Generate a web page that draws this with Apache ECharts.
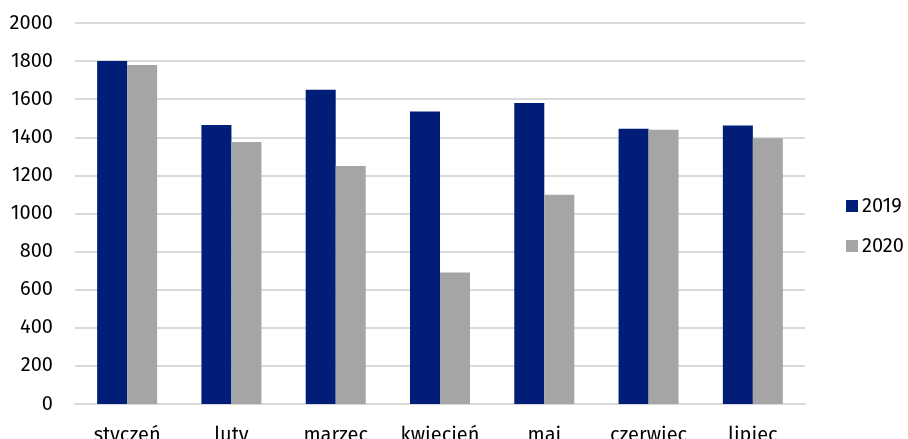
<!DOCTYPE html>
<html>
<head>
<meta charset="utf-8">
<script src="https://cdn.jsdelivr.net/npm/echarts@6/dist/echarts.min.js"></script>
<style>
  html, body { margin: 0; padding: 0; background: #fff; }
  #chart { width: 908px; height: 439px; }
</style>
</head>
<body>
<div id="chart"></div>
<script>
// dane
const months = ['styczeń', 'luty', 'marzec', 'kwiecień', 'maj', 'czerwiec', 'lipiec'];
const values2019 = [1800, 1465, 1650, 1535, 1580, 1445, 1462];
const values2020 = [1780, 1375, 1250, 690, 1098, 1440, 1395];

const font = '"Fira Sans", "Open Sans", "Noto Sans", sans-serif';

const myChart = echarts.init(document.getElementById('chart'));
myChart.setOption({
  animation: false,
  textStyle: { fontFamily: font },
  grid: { left: 75, right: 103, top: 23, bottom: 35, containLabel: false, outerBoundsMode: 'none' },
  legend: {
    orient: 'vertical',
    left: 846,
    top: 196,
    padding: 0,
    itemWidth: 12,
    itemHeight: 12,
    itemGap: 20,
    icon: 'rect',
    textStyle: { fontSize: 20, color: '#000', fontFamily: font, padding: [0, 0, 0, -1] },
    data: ['2019', '2020']
  },
  xAxis: {
    type: 'category',
    data: months,
    axisLine: { lineStyle: { color: '#d9d9d9', width: 2 } },
    axisTick: { show: false },
    axisLabel: { color: '#000', fontSize: 20, margin: 21 }
  },
  yAxis: {
    type: 'value',
    min: 0,
    max: 2000,
    interval: 200,
    axisLine: { show: false },
    axisTick: { show: false },
    splitLine: { lineStyle: { color: '#d9d9d9', width: 2 } },
    axisLabel: { color: '#000', fontSize: 20, margin: 22, formatter: v => String(v) }
  },
  series: [
    {
      name: '2019',
      type: 'bar',
      data: values2019,
      barWidth: 30,
      barGap: '0%',
      itemStyle: { color: '#001E78' }
    },
    {
      name: '2020',
      type: 'bar',
      data: values2020,
      barWidth: 30,
      itemStyle: { color: '#A5A5A5' }
    }
  ]
});
</script>
</body>
</html>
